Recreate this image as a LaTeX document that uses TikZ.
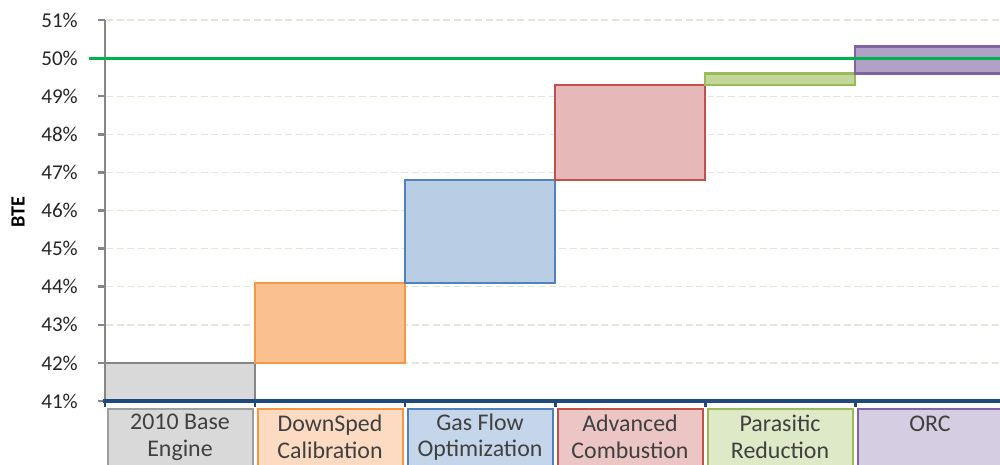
\documentclass[tikz,border=0pt]{standalone}
\usepackage{fontspec}
\setmainfont{Carlito}
\usetikzlibrary{positioning}

\definecolor{gridc}{RGB}{232,229,214}
\definecolor{axisgray}{RGB}{134,134,134}
\definecolor{axisblue}{RGB}{31,73,125}
\definecolor{goalgreen}{RGB}{0,176,80}
\definecolor{txt}{RGB}{64,64,64}
\definecolor{grayfill}{RGB}{217,217,217}
\definecolor{grayline}{RGB}{134,134,134}
\definecolor{orfill}{RGB}{250,192,144}
\definecolor{orline}{RGB}{247,150,70}
\definecolor{orlight}{RGB}{252,219,194}
\definecolor{blfill}{RGB}{185,205,229}
\definecolor{blline}{RGB}{79,129,189}
\definecolor{bllight}{RGB}{198,214,234}
\definecolor{rdfill}{RGB}{230,184,183}
\definecolor{rdline}{RGB}{192,80,77}
\definecolor{rdlight}{RGB}{236,198,197}
\definecolor{gnfill}{RGB}{196,215,155}
\definecolor{gnline}{RGB}{155,187,89}
\definecolor{gnlight}{RGB}{222,233,200}
\definecolor{pufill}{RGB}{178,161,199}
\definecolor{puline}{RGB}{128,100,162}
\definecolor{pulight}{RGB}{213,205,225}

\newcommand\btey[1]{{401-(#1-41)*38.1}}

\tikzset{
  bar/.style={line width=1.4pt},
  catbox/.style={line width=1.2pt},
  cattext/.style={text=txt,font=\fontsize{13.6}{15.2}\selectfont,align=center},
  ticklabel/.style={anchor=east,text=black!85,font=\fontsize{12}{14}\selectfont}
}

\begin{document}
\begin{tikzpicture}[x=0.02cm,y=-0.02cm]
\useasboundingbox (0,0) rectangle (1000,464);

\foreach \p in {42,...,49,51}
  \draw[gridc,line width=0.8pt,dash pattern=on 4pt off 2pt] (106,\btey{\p}) -- (1000,\btey{\p});

\foreach \p in {41,...,51}{
  \draw[axisgray,line width=1.4pt] (98,\btey{\p}) -- (105,\btey{\p});
  \node[ticklabel] (lab\p) at (84,\btey{\p}) {\p\%};
}
\draw[axisgray,line width=1.6pt] (105,\btey{51}) -- (105,401);

\node[rotate=90,font=\bfseries\fontsize{11.5}{13}\selectfont] (bte) at (18,212) {BTE};

\draw[bar,fill=grayfill,draw=grayline] (105,\btey{41}) rectangle (255,\btey{42});
\draw[bar,fill=orfill,draw=orline] (255,\btey{42}) rectangle (405,\btey{44.1});
\draw[bar,fill=blfill,draw=blline] (405,\btey{44.1}) rectangle (555,\btey{46.8});
\draw[bar,fill=rdfill,draw=rdline] (555,\btey{46.8}) rectangle (705,\btey{49.3});
\draw[bar,fill=gnfill,draw=gnline] (705,\btey{49.3}) rectangle (855,\btey{49.6});
\draw[bar,fill=pufill,draw=puline] (855,\btey{49.6}) rectangle (1008,\btey{50.3});

\draw[goalgreen,line width=1.6pt] (89,\btey{50}) -- (1000,\btey{50});

\draw[axisblue,line width=1.9pt] (103,401) -- (1000,401);
\foreach \x in {105,255,405,555,705,855}
  \draw[axisblue,line width=1.7pt] (\x,401) -- (\x,407);

\draw[catbox,fill=grayfill,draw=grayline!80] (108,409) rectangle (253,470);
\draw[catbox,fill=orlight,draw=orline] (258,409) rectangle (403,470);
\draw[catbox,fill=bllight,draw=blline] (408,409) rectangle (553,470);
\draw[catbox,fill=rdlight,draw=rdline] (558,409) rectangle (703,470);
\draw[catbox,fill=gnlight,draw=gnline] (708,409) rectangle (853,470);
\draw[catbox,fill=pulight,draw=puline] (858,409) rectangle (1010,470);

\node[cattext] (base) at (180,437) {2010 Base\\Engine};
\node[cattext] (down) at (330,437) {DownSped\\Calibration};
\node[cattext] (gas) at (480,437) {Gas Flow\\Optimization};
\node[cattext] (adv) at (630,437) {Advanced\\Combustion};
\node[cattext] (para) at (780,437) {Parasitic\\Reduction};
\node[cattext,anchor=north] (orc) at (930,410) {ORC};
\end{tikzpicture}
\end{document}
